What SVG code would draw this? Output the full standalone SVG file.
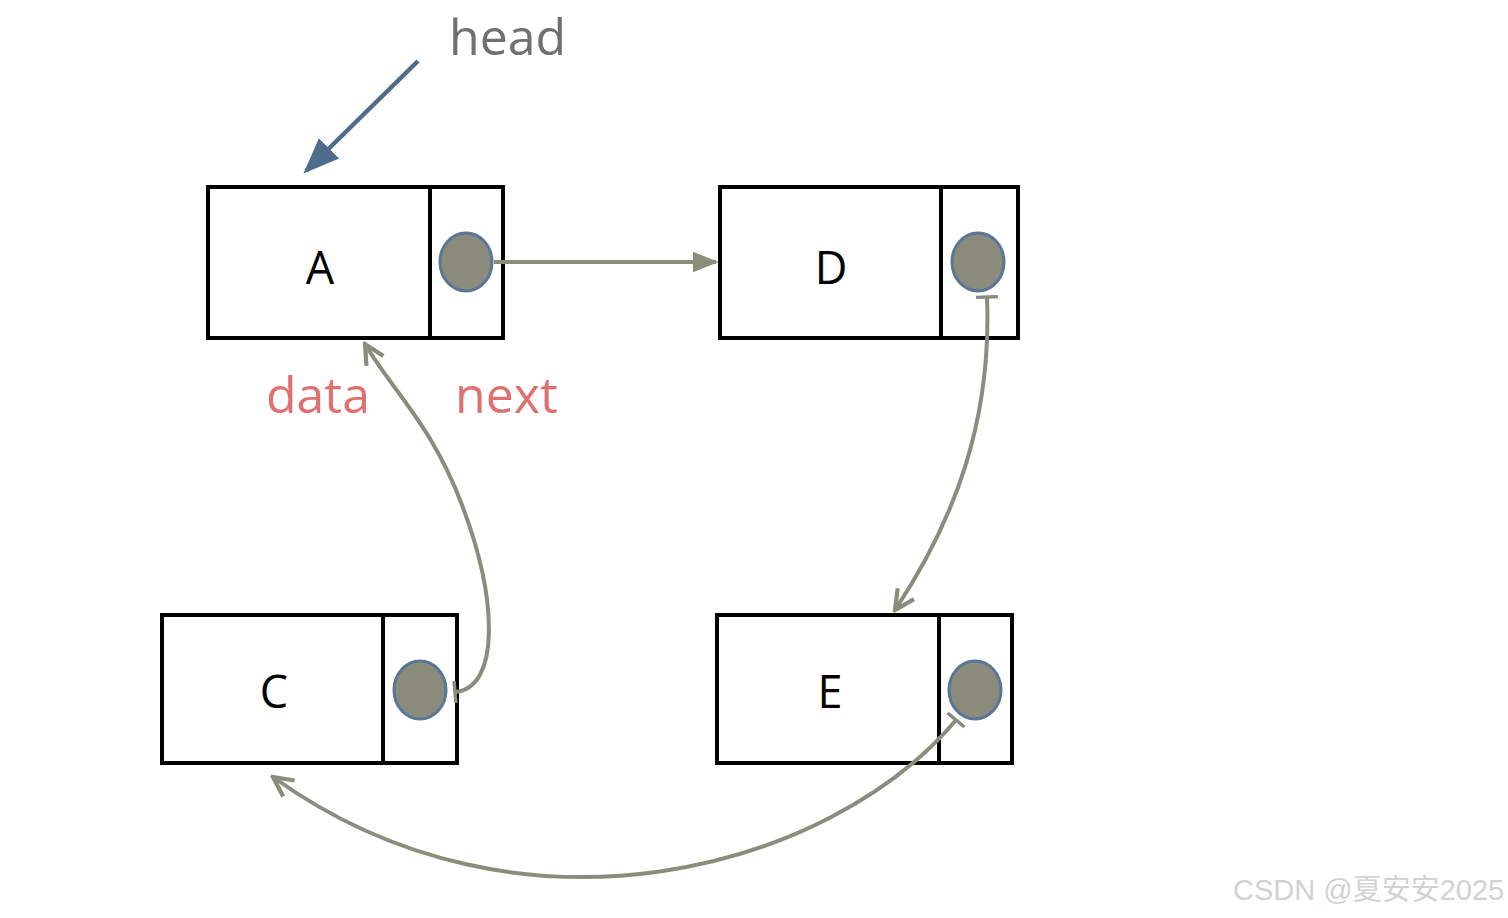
<svg xmlns="http://www.w3.org/2000/svg" width="1508" height="918" viewBox="0 0 1508 918">
<style>
.box{fill:#fff;stroke:#000;stroke-width:4}
.div{stroke:#000;stroke-width:4}
.dot{fill:#8a8b7a;stroke:#5a7696;stroke-width:3}
.lbl{font-family:"Open Sans","DejaVu Sans",sans-serif;font-size:45px;fill:#000;text-anchor:middle}
.conn{fill:none;stroke:#8a8d7c;stroke-width:4}
.ann{font-family:"Open Sans","DejaVu Sans",sans-serif;font-size:50px}
</style>
<defs>
<marker id="open" viewBox="0 0 20 20" refX="18" refY="10" markerWidth="7" markerHeight="7" markerUnits="strokeWidth" orient="auto">
<polyline points="4,3 18,10 4,17" fill="none" stroke="#8a8d7c" stroke-width="3"/>
</marker>
<marker id="tee" viewBox="0 0 4 22" refX="2" refY="11" markerWidth="4" markerHeight="22" markerUnits="userSpaceOnUse" orient="auto">
<line x1="2" y1="0" x2="2" y2="22" stroke="#8a8d7c" stroke-width="3.5"/>
</marker>
<marker id="fillArr" viewBox="0 0 20 20" refX="18" refY="10" markerWidth="6.5" markerHeight="6.5" markerUnits="strokeWidth" orient="auto">
<path d="M0,2 L20,10 L0,18 Z" fill="#8a8d7c"/>
</marker>
<marker id="headArr" viewBox="0 0 20 20" refX="18" refY="10" markerWidth="8" markerHeight="8" markerUnits="strokeWidth" orient="auto">
<path d="M0,2 L20,10 L0,18 Z" fill="#4f6d8a"/>
</marker>
</defs>

<g id="node-A">
<rect x="208" y="187" width="295" height="151" class="box"/>
<line x1="430" y1="187" x2="430" y2="338" class="div"/>
<ellipse cx="466" cy="262" rx="26" ry="29" class="dot"/>
<text x="320" y="284" class="lbl">A</text>
</g>
<g id="node-D">
<rect x="720" y="187" width="298" height="151" class="box"/>
<line x1="941" y1="187" x2="941" y2="338" class="div"/>
<ellipse cx="978" cy="262" rx="26" ry="29" class="dot"/>
<text x="831" y="284" class="lbl">D</text>
</g>
<g id="node-C">
<rect x="162" y="615" width="295" height="148" class="box"/>
<line x1="383" y1="615" x2="383" y2="763" class="div"/>
<ellipse cx="420" cy="690" rx="26" ry="29" class="dot"/>
<text x="274" y="708" class="lbl">C</text>
</g>
<g id="node-E">
<rect x="717" y="615" width="295" height="148" class="box"/>
<line x1="939" y1="615" x2="939" y2="763" class="div"/>
<ellipse cx="975" cy="690" rx="26" ry="29" class="dot"/>
<text x="830" y="708" class="lbl">E</text>
</g>

<g id="connectors">
<line x1="418" y1="61" x2="306" y2="171" stroke="#4f6d8a" stroke-width="4.5" marker-end="url(#headArr)"/>
<line x1="494" y1="262" x2="716" y2="262" class="conn" marker-end="url(#fillArr)"/>
<path d="M987,297 C992,420 955,520 895,610" class="conn" marker-start="url(#tee)" marker-end="url(#open)"/>
<path d="M455,692 C500,688 498,600 462,505 C432,425 392,390 365,344" class="conn" marker-start="url(#tee)" marker-end="url(#open)"/>
<path d="M956,720 C830,870 520,955 273,777" class="conn" marker-start="url(#tee)" marker-end="url(#open)"/>
</g>

<g id="labels">
<text x="449" y="55" class="ann" fill="#707070">head</text>
<text x="266" y="413" class="ann" fill="#e07070">data</text>
<text x="455" y="413" class="ann" fill="#e07070">next</text>
<text x="1233" y="900" font-family="'Liberation Sans','Noto Sans CJK SC',sans-serif" font-size="29" fill="#d2d2d2">CSDN @夏安安2025</text>
</g>
</svg>
